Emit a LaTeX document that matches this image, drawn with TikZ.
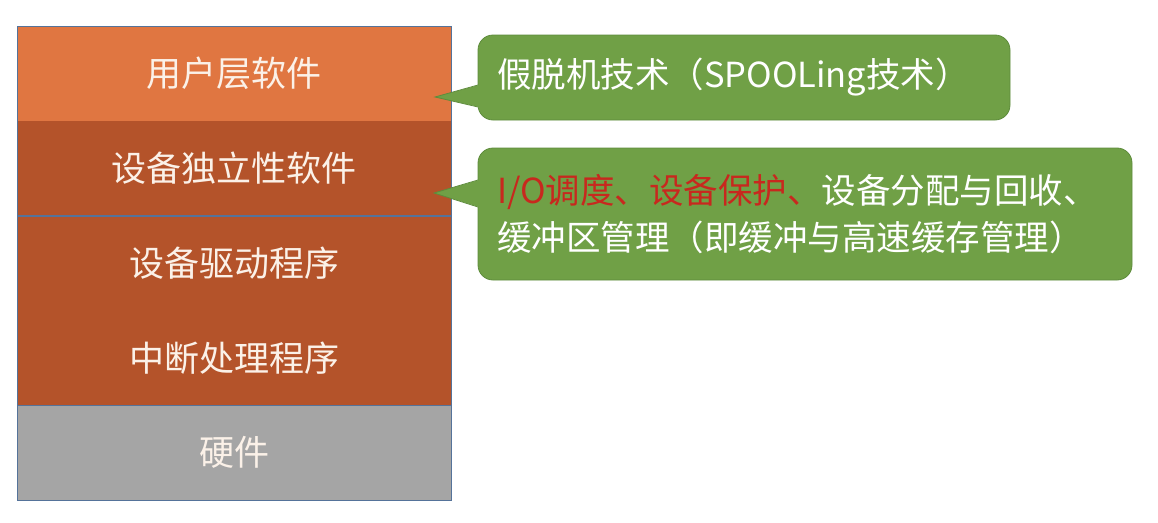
\documentclass[tikz,border=0pt]{standalone}
\usepackage{fontspec}
\setmainfont{Noto Sans CJK SC}
\usetikzlibrary{positioning}
\definecolor{userorange}{HTML}{E07641}
\definecolor{layerbrown}{HTML}{B4532A}
\definecolor{hwgray}{HTML}{A5A5A5}
\definecolor{edgeblue}{HTML}{55739A}
\definecolor{notegreen}{HTML}{70A046}
\definecolor{noteedge}{HTML}{5E8C3C}
\definecolor{notered}{HTML}{C8281E}
\definecolor{layertext}{HTML}{FBF1E8}

\begin{document}
\begin{tikzpicture}[x=1pt,y=-1pt,
    layer/.style={minimum width=434pt, minimum height=94.2pt, inner sep=0pt,
        line width=0.6pt, text=layertext, font=\fontsize{35}{40}\selectfont},
    note/.style={fill=notegreen, draw=noteedge, line width=0.8pt, rounded corners=15pt,
        inner xsep=19pt, inner ysep=0pt, align=left, text=white,
        font=\fontsize{34.5}{47}\selectfont}]
    \useasboundingbox (0,0) rectangle (1158,522);

    % Layer stack
    \node[layer, fill=userorange, draw=userorange, anchor=north west] (user) at (17,26) {用户层软件};
    \node[layer, fill=layerbrown, draw=layerbrown, below=0pt of user] (indep) {设备独立性软件};
    \node[layer, fill=layerbrown, draw=layerbrown, below=0pt of indep] (driver) {设备驱动程序};
    \node[layer, fill=layerbrown, draw=layerbrown, below=0pt of driver] (intr) {中断处理程序};
    \node[layer, fill=hwgray, draw=hwgray, below=0pt of intr] (hw) {硬件};

    % Stack outline
    \draw[edgeblue, line width=1pt] (user.north west) rectangle (hw.south east);
    \draw[edgeblue, line width=1.8pt] (indep.south west) -- (indep.south east);
    \draw[edgeblue, line width=1.2pt] (hw.north west) -- (hw.north east);

    % Notes
    \node[note, minimum width=532pt, minimum height=85pt, text width=494pt] (spool) at (744,77.5)
        {假脱机技术（SPOOLing技术）};
    \node[note, minimum width=654pt, minimum height=132pt, text width=616pt] (tasks) at (805,214)
        {\textcolor{notered}{I/O调度、设备保护、}设备分配与回收、\\缓冲区管理（即缓冲与高速缓存管理）};

    % Pointers
    \coordinate (tip1) at (435,97);
    \coordinate (tip2) at (434,193);
    \fill[notegreen] (479,85) -- (tip1) -- (479,107) -- cycle;
    \draw[noteedge, line width=0.8pt] (478,85) -- (tip1) -- (478,107);
    \fill[notegreen] (479,180) -- (tip2) -- (479,207) -- cycle;
    \draw[noteedge, line width=0.8pt] (478,180) -- (tip2) -- (478,207);
\end{tikzpicture}
\end{document}
